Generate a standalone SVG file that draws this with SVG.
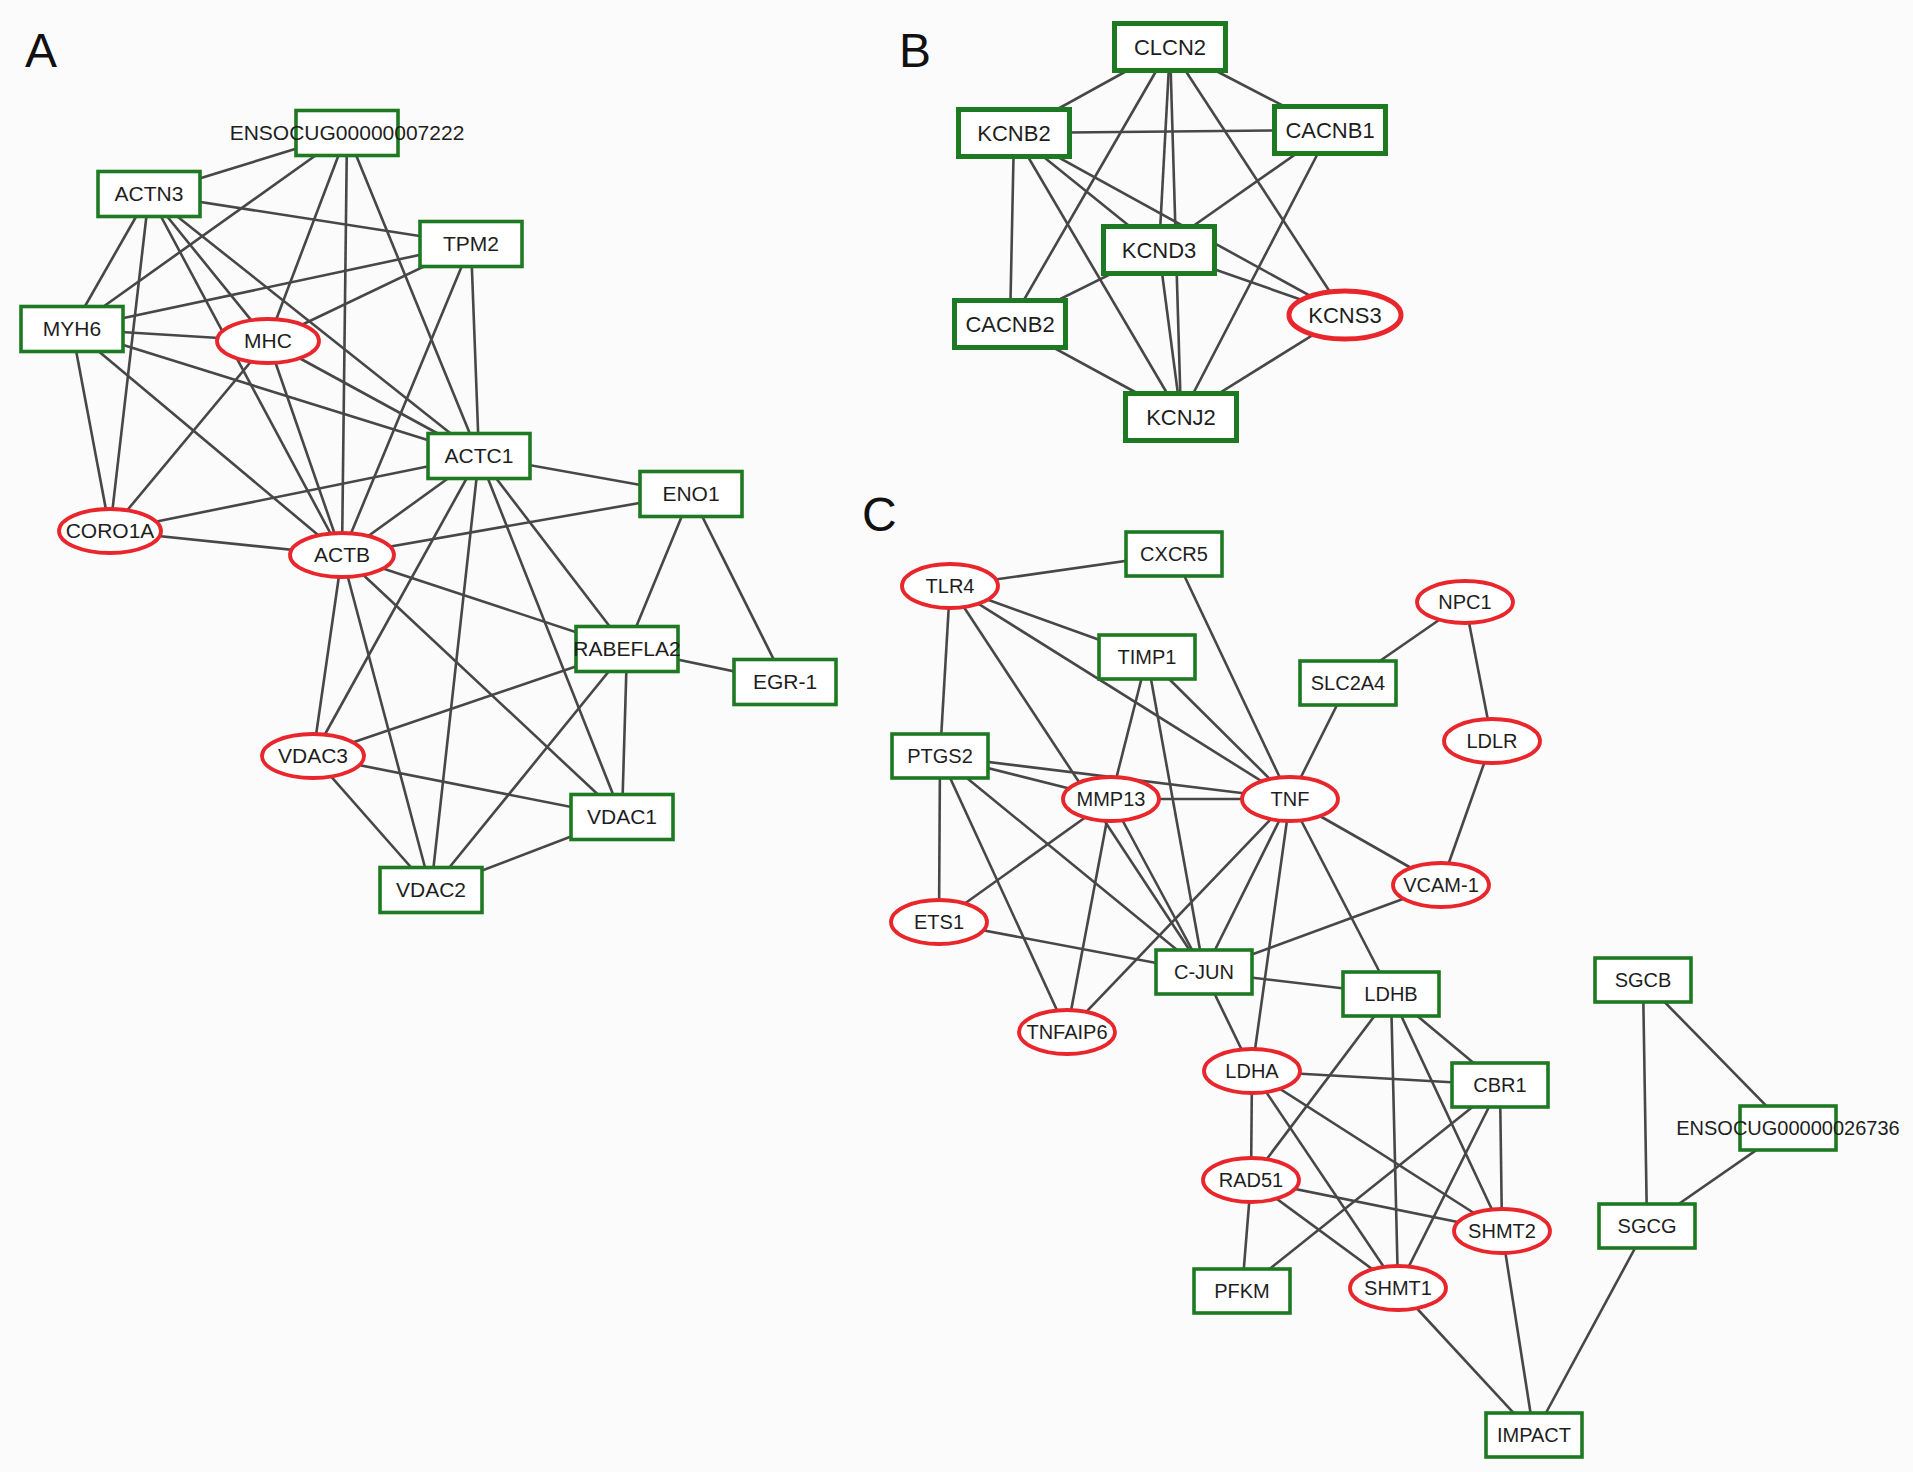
<svg xmlns="http://www.w3.org/2000/svg" width="1913" height="1472" viewBox="0 0 1913 1472">
<style>
.e line{stroke:#474747;stroke-width:2.6}
.g{fill:#fff;stroke:#1e7a22;stroke-width:3.6}
.gb{fill:#fff;stroke:#1e7a22;stroke-width:5}
.r{fill:#fff;stroke:#e8262b;stroke-width:3.8}
.rb{fill:#fff;stroke:#e8262b;stroke-width:5}
text{font-family:"Liberation Sans",Arial,sans-serif;fill:#1e1e1e;text-anchor:middle}
.ta{font-size:21px}
.tb{font-size:22px}
.tc{font-size:20px}
.lbl{font-size:48px;text-anchor:start;fill:#111}
</style>
<rect x="0" y="0" width="1913" height="1472" fill="#fbfbfb"/>
<text class="lbl" x="25" y="67">A</text>
<text class="lbl" x="899" y="67">B</text>
<text class="lbl" x="862" y="531">C</text>
<g id="connectors" class="e">
<!-- Panel A -->
<line x1="347" y1="133" x2="149" y2="194"/>
<line x1="347" y1="133" x2="72" y2="329"/>
<line x1="347" y1="133" x2="268" y2="341"/>
<line x1="347" y1="133" x2="342" y2="555"/>
<line x1="347" y1="133" x2="479" y2="456"/>
<line x1="149" y1="194" x2="471" y2="244"/>
<line x1="149" y1="194" x2="72" y2="329"/>
<line x1="149" y1="194" x2="110" y2="531"/>
<line x1="149" y1="194" x2="268" y2="341"/>
<line x1="149" y1="194" x2="342" y2="555"/>
<line x1="149" y1="194" x2="479" y2="456"/>
<line x1="471" y1="244" x2="72" y2="329"/>
<line x1="471" y1="244" x2="268" y2="341"/>
<line x1="471" y1="244" x2="479" y2="456"/>
<line x1="471" y1="244" x2="342" y2="555"/>
<line x1="72" y1="329" x2="268" y2="341"/>
<line x1="72" y1="329" x2="479" y2="456"/>
<line x1="72" y1="329" x2="110" y2="531"/>
<line x1="72" y1="329" x2="342" y2="555"/>
<line x1="268" y1="341" x2="110" y2="531"/>
<line x1="268" y1="341" x2="342" y2="555"/>
<line x1="268" y1="341" x2="479" y2="456"/>
<line x1="479" y1="456" x2="691" y2="494"/>
<line x1="479" y1="456" x2="110" y2="531"/>
<line x1="479" y1="456" x2="342" y2="555"/>
<line x1="479" y1="456" x2="313" y2="756"/>
<line x1="479" y1="456" x2="431" y2="890"/>
<line x1="479" y1="456" x2="622" y2="817"/>
<line x1="479" y1="456" x2="627" y2="649"/>
<line x1="691" y1="494" x2="342" y2="555"/>
<line x1="691" y1="494" x2="627" y2="649"/>
<line x1="691" y1="494" x2="785" y2="682"/>
<line x1="342" y1="555" x2="110" y2="531"/>
<line x1="342" y1="555" x2="627" y2="649"/>
<line x1="342" y1="555" x2="313" y2="756"/>
<line x1="342" y1="555" x2="431" y2="890"/>
<line x1="342" y1="555" x2="622" y2="817"/>
<line x1="627" y1="649" x2="785" y2="682"/>
<line x1="627" y1="649" x2="313" y2="756"/>
<line x1="627" y1="649" x2="622" y2="817"/>
<line x1="627" y1="649" x2="431" y2="890"/>
<line x1="313" y1="756" x2="622" y2="817"/>
<line x1="313" y1="756" x2="431" y2="890"/>
<line x1="622" y1="817" x2="431" y2="890"/>
<!-- Panel B -->
<line x1="1170" y1="47" x2="1014" y2="133"/>
<line x1="1170" y1="47" x2="1330" y2="130"/>
<line x1="1170" y1="47" x2="1010" y2="324"/>
<line x1="1170" y1="47" x2="1159" y2="250"/>
<line x1="1170" y1="47" x2="1181" y2="417"/>
<line x1="1170" y1="47" x2="1345" y2="315"/>
<line x1="1014" y1="133" x2="1330" y2="130"/>
<line x1="1014" y1="133" x2="1010" y2="324"/>
<line x1="1014" y1="133" x2="1159" y2="250"/>
<line x1="1014" y1="133" x2="1345" y2="315"/>
<line x1="1014" y1="133" x2="1181" y2="417"/>
<line x1="1330" y1="130" x2="1159" y2="250"/>
<line x1="1330" y1="130" x2="1181" y2="417"/>
<line x1="1159" y1="250" x2="1010" y2="324"/>
<line x1="1159" y1="250" x2="1345" y2="315"/>
<line x1="1159" y1="250" x2="1181" y2="417"/>
<line x1="1010" y1="324" x2="1181" y2="417"/>
<line x1="1345" y1="315" x2="1181" y2="417"/>
<!-- Panel C -->
<line x1="950" y1="586" x2="1174" y2="554"/>
<line x1="950" y1="586" x2="940" y2="756"/>
<line x1="950" y1="586" x2="1147" y2="657"/>
<line x1="950" y1="586" x2="1204" y2="972"/>
<line x1="950" y1="586" x2="1290" y2="799"/>
<line x1="1174" y1="554" x2="1290" y2="799"/>
<line x1="1147" y1="657" x2="1111" y2="799"/>
<line x1="1147" y1="657" x2="1204" y2="972"/>
<line x1="1147" y1="657" x2="1290" y2="799"/>
<line x1="1465" y1="602" x2="1348" y2="683"/>
<line x1="1465" y1="602" x2="1492" y2="741"/>
<line x1="1348" y1="683" x2="1290" y2="799"/>
<line x1="1492" y1="741" x2="1441" y2="885"/>
<line x1="940" y1="756" x2="1111" y2="799"/>
<line x1="940" y1="756" x2="1290" y2="799"/>
<line x1="940" y1="756" x2="939" y2="922"/>
<line x1="940" y1="756" x2="1067" y2="1032"/>
<line x1="940" y1="756" x2="1204" y2="972"/>
<line x1="1111" y1="799" x2="1290" y2="799"/>
<line x1="1111" y1="799" x2="939" y2="922"/>
<line x1="1111" y1="799" x2="1067" y2="1032"/>
<line x1="1111" y1="799" x2="1204" y2="972"/>
<line x1="1290" y1="799" x2="1441" y2="885"/>
<line x1="1290" y1="799" x2="1391" y2="994"/>
<line x1="1290" y1="799" x2="1252" y2="1071"/>
<line x1="1290" y1="799" x2="1204" y2="972"/>
<line x1="1290" y1="799" x2="1067" y2="1032"/>
<line x1="1441" y1="885" x2="1204" y2="972"/>
<line x1="939" y1="922" x2="1204" y2="972"/>
<line x1="1204" y1="972" x2="1391" y2="994"/>
<line x1="1204" y1="972" x2="1252" y2="1071"/>
<line x1="1391" y1="994" x2="1251" y2="1180"/>
<line x1="1391" y1="994" x2="1398" y2="1288"/>
<line x1="1391" y1="994" x2="1502" y2="1231"/>
<line x1="1391" y1="994" x2="1500" y2="1085"/>
<line x1="1252" y1="1071" x2="1500" y2="1085"/>
<line x1="1252" y1="1071" x2="1251" y2="1180"/>
<line x1="1252" y1="1071" x2="1398" y2="1288"/>
<line x1="1252" y1="1071" x2="1502" y2="1231"/>
<line x1="1500" y1="1085" x2="1242" y2="1291"/>
<line x1="1500" y1="1085" x2="1398" y2="1288"/>
<line x1="1500" y1="1085" x2="1502" y2="1231"/>
<line x1="1251" y1="1180" x2="1502" y2="1231"/>
<line x1="1251" y1="1180" x2="1398" y2="1288"/>
<line x1="1251" y1="1180" x2="1242" y2="1291"/>
<line x1="1398" y1="1288" x2="1534" y2="1435"/>
<line x1="1502" y1="1231" x2="1534" y2="1435"/>
<line x1="1647" y1="1226" x2="1534" y2="1435"/>
<line x1="1643" y1="980" x2="1647" y2="1226"/>
<line x1="1643" y1="980" x2="1788" y2="1128"/>
<line x1="1788" y1="1128" x2="1647" y2="1226"/>
</g>
<!-- Panel A nodes -->
<g id="ENSOCUG00000007222"><rect class="g" x="296" y="110.5" width="102" height="45"/><text class="ta" x="347" y="140">ENSOCUG00000007222</text></g>
<g id="ACTN3"><rect class="g" x="98" y="171.5" width="102" height="45"/><text class="ta" x="149" y="201">ACTN3</text></g>
<g id="TPM2"><rect class="g" x="420" y="221.5" width="102" height="45"/><text class="ta" x="471" y="251">TPM2</text></g>
<g id="MYH6"><rect class="g" x="21" y="306.5" width="102" height="45"/><text class="ta" x="72" y="336">MYH6</text></g>
<g id="MHC"><ellipse class="r" cx="268" cy="341" rx="51" ry="22"/><text class="ta" x="268" y="348">MHC</text></g>
<g id="ACTC1"><rect class="g" x="428" y="433.5" width="102" height="45"/><text class="ta" x="479" y="463">ACTC1</text></g>
<g id="ENO1"><rect class="g" x="640" y="471.5" width="102" height="45"/><text class="ta" x="691" y="501">ENO1</text></g>
<g id="CORO1A"><ellipse class="r" cx="110" cy="531" rx="51" ry="22"/><text class="ta" x="110" y="538">CORO1A</text></g>
<g id="ACTB"><ellipse class="r" cx="342" cy="555" rx="52" ry="22"/><text class="ta" x="342" y="562">ACTB</text></g>
<g id="RABEFLA2"><rect class="g" x="576" y="626.5" width="102" height="45"/><text class="ta" x="627" y="656">RABEFLA2</text></g>
<g id="EGR-1"><rect class="g" x="734" y="659.5" width="102" height="45"/><text class="ta" x="785" y="689">EGR-1</text></g>
<g id="VDAC3"><ellipse class="r" cx="313" cy="756" rx="51" ry="22"/><text class="ta" x="313" y="763">VDAC3</text></g>
<g id="VDAC1"><rect class="g" x="571" y="794.5" width="102" height="45"/><text class="ta" x="622" y="824">VDAC1</text></g>
<g id="VDAC2"><rect class="g" x="380" y="867.5" width="102" height="45"/><text class="ta" x="431" y="897">VDAC2</text></g>
<!-- Panel B nodes -->
<g id="CLCN2"><rect class="gb" x="1114.5" y="23.5" width="111" height="47"/><text class="tb" x="1170" y="55">CLCN2</text></g>
<g id="KCNB2"><rect class="gb" x="958.5" y="109.5" width="111" height="47"/><text class="tb" x="1014" y="141">KCNB2</text></g>
<g id="CACNB1"><rect class="gb" x="1274.5" y="106.5" width="111" height="47"/><text class="tb" x="1330" y="138">CACNB1</text></g>
<g id="KCND3"><rect class="gb" x="1103.5" y="226.5" width="111" height="47"/><text class="tb" x="1159" y="258">KCND3</text></g>
<g id="CACNB2"><rect class="gb" x="954.5" y="300.5" width="111" height="47"/><text class="tb" x="1010" y="332">CACNB2</text></g>
<g id="KCNS3"><ellipse class="rb" cx="1345" cy="315" rx="56" ry="24"/><text class="tb" x="1345" y="323">KCNS3</text></g>
<g id="KCNJ2"><rect class="gb" x="1125.5" y="393.5" width="111" height="47"/><text class="tb" x="1181" y="425">KCNJ2</text></g>
<!-- Panel C nodes -->
<g id="CXCR5"><rect class="g" x="1126" y="532" width="96" height="44"/><text class="tc" x="1174" y="561">CXCR5</text></g>
<g id="TLR4"><ellipse class="r" cx="950" cy="586" rx="48" ry="22"/><text class="tc" x="950" y="593">TLR4</text></g>
<g id="NPC1"><ellipse class="r" cx="1465" cy="602" rx="48" ry="21"/><text class="tc" x="1465" y="609">NPC1</text></g>
<g id="TIMP1"><rect class="g" x="1099" y="635" width="96" height="44"/><text class="tc" x="1147" y="664">TIMP1</text></g>
<g id="SLC2A4"><rect class="g" x="1300" y="661" width="96" height="44"/><text class="tc" x="1348" y="690">SLC2A4</text></g>
<g id="PTGS2"><rect class="g" x="892" y="734" width="96" height="44"/><text class="tc" x="940" y="763">PTGS2</text></g>
<g id="LDLR"><ellipse class="r" cx="1492" cy="741" rx="48" ry="22"/><text class="tc" x="1492" y="748">LDLR</text></g>
<g id="MMP13"><ellipse class="r" cx="1111" cy="799" rx="48" ry="22"/><text class="tc" x="1111" y="806">MMP13</text></g>
<g id="TNF"><ellipse class="r" cx="1290" cy="799" rx="48" ry="22"/><text class="tc" x="1290" y="806">TNF</text></g>
<g id="VCAM-1"><ellipse class="r" cx="1441" cy="885" rx="48" ry="22"/><text class="tc" x="1441" y="892">VCAM-1</text></g>
<g id="ETS1"><ellipse class="r" cx="939" cy="922" rx="48" ry="22"/><text class="tc" x="939" y="929">ETS1</text></g>
<g id="C-JUN"><rect class="g" x="1156" y="950" width="96" height="44"/><text class="tc" x="1204" y="979">C-JUN</text></g>
<g id="LDHB"><rect class="g" x="1343" y="972" width="96" height="44"/><text class="tc" x="1391" y="1001">LDHB</text></g>
<g id="TNFAIP6"><ellipse class="r" cx="1067" cy="1032" rx="48" ry="22"/><text class="tc" x="1067" y="1039">TNFAIP6</text></g>
<g id="LDHA"><ellipse class="r" cx="1252" cy="1071" rx="48" ry="22"/><text class="tc" x="1252" y="1078">LDHA</text></g>
<g id="CBR1"><rect class="g" x="1452" y="1063" width="96" height="44"/><text class="tc" x="1500" y="1092">CBR1</text></g>
<g id="SGCB"><rect class="g" x="1595" y="958" width="96" height="44"/><text class="tc" x="1643" y="987">SGCB</text></g>
<g id="ENSOCUG00000026736"><rect class="g" x="1740" y="1106" width="96" height="44"/><text class="tc" x="1788" y="1135">ENSOCUG00000026736</text></g>
<g id="RAD51"><ellipse class="r" cx="1251" cy="1180" rx="48" ry="22"/><text class="tc" x="1251" y="1187">RAD51</text></g>
<g id="SHMT2"><ellipse class="r" cx="1502" cy="1231" rx="48" ry="22"/><text class="tc" x="1502" y="1238">SHMT2</text></g>
<g id="SGCG"><rect class="g" x="1599" y="1204" width="96" height="44"/><text class="tc" x="1647" y="1233">SGCG</text></g>
<g id="PFKM"><rect class="g" x="1194" y="1269" width="96" height="44"/><text class="tc" x="1242" y="1298">PFKM</text></g>
<g id="SHMT1"><ellipse class="r" cx="1398" cy="1288" rx="48" ry="22"/><text class="tc" x="1398" y="1295">SHMT1</text></g>
<g id="IMPACT"><rect class="g" x="1486" y="1413" width="96" height="44"/><text class="tc" x="1534" y="1442">IMPACT</text></g>
</svg>
